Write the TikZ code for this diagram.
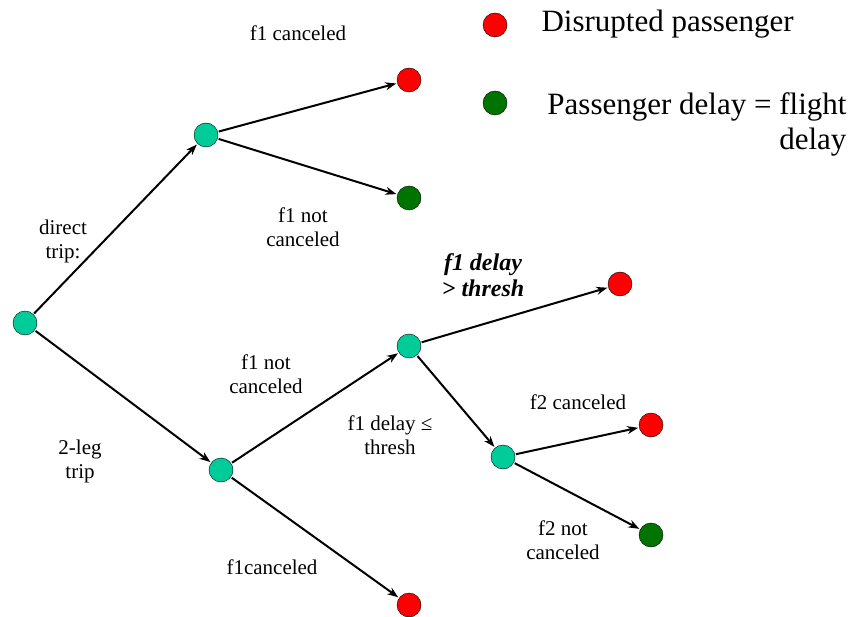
\documentclass[tikz,border=0pt]{standalone}
\usepackage{fontspec}
\setmainfont{Liberation Serif}
\usetikzlibrary{arrows.meta}
\tikzset{
  state/.style = {circle, draw = black, thin, minimum size = 24pt, inner sep = 0pt},
  mid/.style = {state, fill = midteal},
  bad/.style = {state, fill = red},
  good/.style = {state, fill = okgreen},
  edge/.style = {line width = 2pt, -{Stealth[length = 11pt, width = 8pt]}, shorten <= 1pt, shorten >= 1pt},
  lbl/.style = {align = center, font = \fontsize{21}{24}\selectfont},
  key/.style = {font = \fontsize{31}{35}\selectfont}
}
\definecolor{midteal}{RGB}{0,204,153}
\definecolor{okgreen}{RGB}{0,115,0}
\begin{document}
\begin{tikzpicture}[x = 1pt, y = -1pt]
\useasboundingbox (0,0) rectangle (856,617);

% tree nodes
\node[mid]  (root) at (25,323)  {};
\node[mid]  (dir)  at (206,135) {};
\node[bad]  (dirc) at (409,80)  {};
\node[good] (dirn) at (409,198) {};
\node[mid]  (two)  at (221,470) {};
\node[mid]  (leg)  at (409,346) {};
\node[bad]  (late) at (620,284) {};
\node[mid]  (conn) at (503,457) {};
\node[bad]  (secc) at (651,425) {};
\node[good] (secn) at (651,535) {};
\node[bad]  (twoc) at (409,605) {};

% branches
\foreach \a/\b in {root/dir, dir/dirc, dir/dirn, root/two, two/leg, two/twoc, leg/late, leg/conn, conn/secc, conn/secn}
   \draw[edge] (\a) -- (\b);

% branch labels
\node[lbl] (tcanc)  at (298,33)  {f1 canceled};
\node[lbl] (tnot)   at (303,227) {f1 not\\canceled};
\node[lbl] (tdir)   at (63,241)  {direct\\trip:};
\node[lbl, font = \fontsize{24}{26}\selectfont\bfseries\itshape] (tlate) at (483,275) {f1 delay\\> thresh};
\node[lbl] (tleg)   at (266,374) {f1 not\\canceled};
\node[lbl] (tok)    at (390,435) {f1 delay ≤\\thresh};
\node[lbl] (ttwo)   at (80,461)  {2-leg\\trip};
\node[lbl] (tsecc)  at (578,402) {f2 canceled};
\node[lbl] (tsecn)  at (563,540) {f2 not\\canceled};
\node[lbl] (ttwoc)  at (272,567) {f1canceled};

% legend
\node[bad]  (kbad)  at (495,25)  {};
\node[good] (kgood) at (495,103) {};
\node[key, anchor = base west] (kbadt)  at (538,32)  {Disrupted passenger};
\node[key, anchor = base east] (kgoodt) at (850,115) {Passenger delay = flight};
\node[key, anchor = base east] (kgoodu) at (850,150) {delay};
\end{tikzpicture}
\end{document}
